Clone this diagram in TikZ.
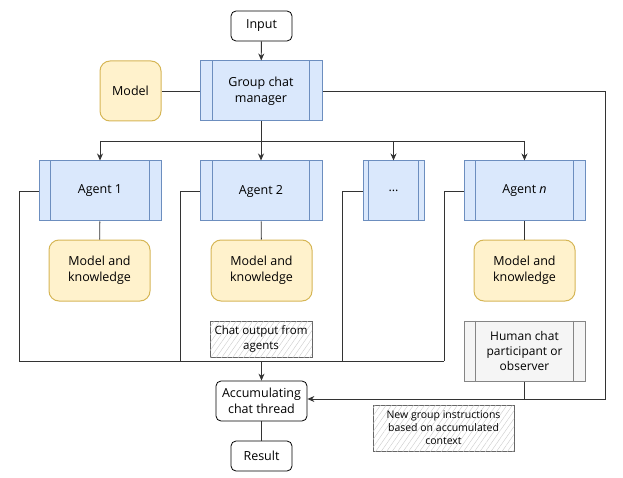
\documentclass[tikz,border=0pt]{standalone}
\usepackage{fontspec}
\setmainfont{Open Sans}
\usetikzlibrary{arrows.meta,patterns.meta}
\definecolor{bfill}{HTML}{DAE8FC}
\definecolor{bdraw}{HTML}{6C8EBF}
\definecolor{yfill}{HTML}{FFF2CC}
\definecolor{ydraw}{HTML}{D6B656}
\definecolor{gfill}{HTML}{F5F5F5}
\definecolor{gdraw}{HTML}{666666}
\definecolor{lin}{HTML}{333333}
\tikzset{
  base/.style={inner sep=0pt, align=center, font=\fontsize{12.5}{16}\selectfont},
  term/.style={base, draw=black, fill=white, rounded corners=5pt, line width=0.8pt},
  proc/.style={base, draw=bdraw, fill=bfill, line width=1pt, minimum width=122pt, minimum height=60pt},
  know/.style={base, draw=ydraw, fill=yfill, line width=1pt, rounded corners=10pt, minimum width=101pt, minimum height=61pt},
  human/.style={base, font=\fontsize{12}{15}\selectfont, draw=gdraw!80, fill=gfill, line width=1pt, minimum width=121pt, minimum height=60pt},
  note/.style={base, font=\fontsize{11.5}{15}\selectfont, draw=gdraw, line width=0.9pt, fill=white,
     postaction={pattern={Lines[angle=55,distance=4.5pt,line width=0.4pt]}, pattern color=black!20}},
  conn/.style={draw=lin, line width=0.9pt},
  arr/.style={conn, -{Stealth[length=7pt,width=6pt]}},
}
\newcommand{\innerlines}[3]{%
  \draw[#3, line width=1pt] ([xshift=#2pt]#1.north west) -- ([xshift=#2pt]#1.south west);
  \draw[#3, line width=1pt] ([xshift=-#2pt]#1.north east) -- ([xshift=-#2pt]#1.south east);}
\begin{document}
\begin{tikzpicture}[x=1pt,y=-1pt]
\useasboundingbox (0,0) rectangle (623,478);
% nodes
\node[term, minimum width=61pt, minimum height=30pt] (input) at (261.5,26) {Input};
\node[proc] (mgr) at (261,91) {Group chat\\manager};
\innerlines{mgr}{13}{bdraw}
\node[know, minimum width=61pt, minimum height=60pt] (model) at (130.5,91) {Model};
\node[proc] (a1) at (100,191) {Agent 1};
\innerlines{a1}{12}{bdraw}
\node[proc] (a2) at (261,191) {Agent 2};
\innerlines{a2}{13}{bdraw}
\node[proc, minimum width=61pt] (ad) at (393.5,191) {...};
\innerlines{ad}{6}{bdraw}
\node[proc, minimum width=121pt] (an) at (524.5,191) {Agent \textit{n}};
\innerlines{an}{12}{bdraw}
\node[know] (k1) at (99.5,270.5) {Model and\\knowledge};
\node[know] (k2) at (261.5,270.5) {Model and\\knowledge};
\node[know] (kn) at (524.5,270.5) {Model and\\knowledge};
\node[note, minimum width=102pt, minimum height=36pt] (chatout) at (261,339) {Chat output from\\agents};
\node[human] (hum) at (524.5,351) {Human chat\\participant or\\observer};
\innerlines{hum}{12}{gdraw!80}
\node[term, minimum width=91pt, minimum height=40pt] (acc) at (261.5,401) {Accumulating\\chat thread};
\node[term, minimum width=61pt, minimum height=30pt] (res) at (261.5,456) {Result};
\node[note, font=\fontsize{10.5}{13}\selectfont, minimum width=141pt, minimum height=46pt] (newg) at (443.5,428) {New group instructions\\based on accumulated\\context};
% coordinates
\coordinate (bus) at (261,141);
\coordinate (busL) at (100,141);
\coordinate (busR) at (524.5,141);
\coordinate (bus3) at (393.5,141);
\coordinate (rt) at (605,91);
\coordinate (rb) at (605,399);
\coordinate (l1) at (19,191);
\coordinate (l2) at (180,191);
\coordinate (l3) at (342,191);
\coordinate (l4) at (444,191);
\coordinate (b1) at (19,361);
\coordinate (b2) at (180,361);
\coordinate (b3) at (342,361);
\coordinate (b4) at (444,361);
\coordinate (bm) at (261.5,361);
\coordinate (hj) at (524.5,399);
% connectors
\draw[arr] (input) -- (mgr);
\draw[conn] (model) -- (mgr);
\draw[conn] (mgr.south) -- (bus);
\draw[conn] (busL) -- (busR);
\draw[arr] (busL) -- (a1.north);
\draw[arr] (bus) -- (a2.north);
\draw[arr] (bus3) -- (ad.north);
\draw[arr] (busR) -- (an.north);
\draw[conn] (a1) -- (k1);
\draw[conn] (a2) -- (k2);
\draw[conn] (an) -- (kn);
\draw[conn] (a1.west) -- (l1) -- (b1) -- (b4);
\draw[conn] (a2.west) -- (l2) -- (b2);
\draw[conn] (ad.west) -- (l3) -- (b3);
\draw[conn] (an.west) -- (l4) -- (b4);
\draw[arr] (bm) -- (acc.north);
\draw[arr] (mgr.east) -- (rt) -- (rb) -- (acc.east |- rb);
\draw[conn] (hum.south) -- (hj);
\draw[conn] (acc) -- (res);
\end{tikzpicture}
\end{document}
